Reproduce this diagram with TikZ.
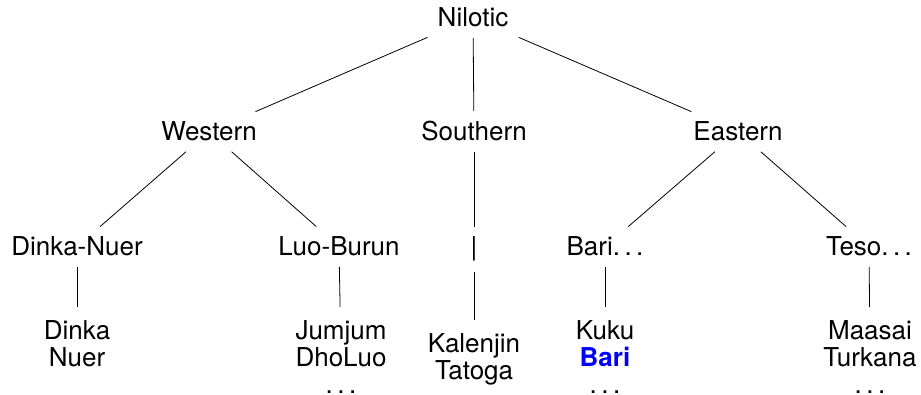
\documentclass[tikz,border=0pt]{standalone}
\usepackage{fontspec}
\setmainfont{TeX Gyre Heros}
% puntos espaciados
\newcommand{\puntos}{.\kern.17em.\kern.17em.}
\begin{document}
\begin{tikzpicture}[x=0.5pt,y=-0.5pt]
        %colores
        \colorlet{azul}{blue}
        \tikzset{
            lengua/.style={inner sep=5pt,font=\fontsize{13}{13.5}\selectfont},
            hoja/.style={lengua,align=center,anchor=north,inner ysep=6.5pt}
        }

        \useasboundingbox (0,0) rectangle (921,395);

        % Raiz y ramas
        \node[lengua,anchor=base] (nilotic) at (473,27) {Nilotic};
        \node[lengua,anchor=base] (western) at (209,141) {Western};
        \node[lengua,anchor=base] (southern) at (474,141) {Southern};
        \node[lengua,anchor=base] (eastern) at (738,141) {Eastern};

        % Subgrupos
        \node[lengua,anchor=base] (dinkanuer) at (77,256) {Dinka-Nuer};
        \node[lengua,anchor=base] (luoburun) at (339,256) {Luo-Burun};
        \node[lengua,anchor=base] (barra) at (474,256) {|};
        \node[lengua,anchor=base] (baripuntos) at (605,256) {Bari\puntos};
        \node[lengua,anchor=base] (tesopuntos) at (869,256) {Teso\puntos};

        % Lenguas
        \node[hoja] (dinka) at (77,307) {Dinka\\Nuer};
        \node[hoja] (jumjum) at (341,307) {Jumjum\\DhoLuo\\\puntos};
        \node[hoja] (kalenjin) at (474,320) {Kalenjin\\Tatoga};
        \node[hoja] (kuku) at (605,307) {Kuku\\\textbf{\color{azul}Bari}\\\puntos};
        \node[hoja] (maasai) at (870,307) {Maasai\\Turkana\\\puntos};

        % Aristas
        \foreach \a/\b in {nilotic/western,nilotic/southern,nilotic/eastern,
            western/dinkanuer,western/luoburun,southern/barra,
            eastern/baripuntos,eastern/tesopuntos,
            dinkanuer/dinka,luoburun/jumjum,barra/kalenjin,
            baripuntos/kuku,tesopuntos/maasai}
        \draw (\a) -- (\b);
    \end{tikzpicture}
\end{document}
